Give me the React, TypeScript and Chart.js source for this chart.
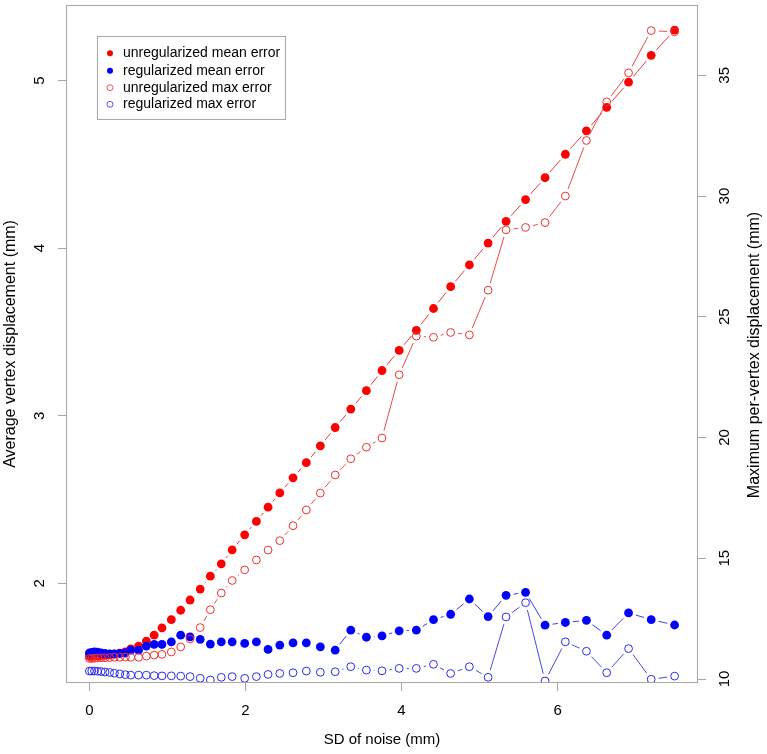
import React, { useEffect, useRef } from "react";
import { Chart, registerables } from "chart.js";

Chart.register(...registerables);

// ---- data ----
const noiseSD = [
  0, 0.03, 0.065, 0.105, 0.15, 0.2, 0.26, 0.32, 0.39, 0.46,
  0.53, 0.63, 0.73, 0.83, 0.93, 1.05, 1.17, 1.29, 1.42, 1.55, 1.69, 1.83, 1.99, 2.14, 2.29, 2.44, 2.61, 2.78, 2.96, 3.15, 3.35,
  3.55, 3.75, 3.97, 4.19, 4.41, 4.63, 4.87, 5.11, 5.34, 5.59, 5.84, 6.1, 6.37, 6.63, 6.91, 7.2, 7.5,
];

const unregMean = [
  1.565, 1.565, 1.566, 1.567, 1.569, 1.571, 1.574, 1.578, 1.584, 1.592,
  1.61, 1.626, 1.656, 1.691, 1.735, 1.784, 1.84, 1.901, 1.966, 2.043, 2.117, 2.2, 2.29, 2.37, 2.455, 2.54, 2.63, 2.72, 2.82, 2.93, 3.04,
  3.15, 3.27, 3.39, 3.51, 3.64, 3.77, 3.9, 4.03, 4.16, 4.29, 4.42, 4.56, 4.7, 4.84, 4.99, 5.15, 5.3,
];

const regMean = [
  1.585, 1.588, 1.592, 1.59, 1.585, 1.582, 1.58, 1.58, 1.582, 1.585,
  1.602, 1.602, 1.626, 1.636, 1.636, 1.651, 1.691, 1.681, 1.666, 1.638, 1.651, 1.651, 1.642, 1.651, 1.606, 1.632, 1.645, 1.645, 1.622, 1.602, 1.721,
  1.679, 1.687, 1.717, 1.721, 1.784, 1.816, 1.907, 1.802, 1.929, 1.947, 1.751, 1.767, 1.78, 1.691, 1.824, 1.784, 1.752,
];

const unregMax = [
  10.85, 10.85, 10.86, 10.87, 10.88, 10.88, 10.89, 10.9, 10.9, 10.91,
  10.9, 10.9, 10.95, 10.99, 11.02, 11.12, 11.33, 11.66, 12.13, 12.87, 13.56, 14.08, 14.52, 14.93, 15.34, 15.73, 16.35, 17.0, 17.7, 18.45, 19.12,
  19.6, 19.98, 22.6, 24.2, 24.15, 24.35, 24.25, 26.1, 28.6, 28.7, 28.9, 30.0, 32.3, 33.9, 35.1, 36.85, 36.8,
];

const regMax = [
  10.33, 10.33, 10.33, 10.32, 10.31, 10.29, 10.27, 10.24, 10.21, 10.18,
  10.16, 10.16, 10.16, 10.14, 10.13, 10.13, 10.12, 10.1, 10.03, 9.96, 10.07, 10.1, 10.03, 10.1, 10.19, 10.23, 10.26, 10.33, 10.28, 10.3, 10.51,
  10.37, 10.34, 10.44, 10.44, 10.61, 10.23, 10.51, 10.07, 12.57, 13.16, 9.92, 11.54, 11.15, 10.26, 11.26, 9.99, 10.12,
];

const xTicks = [0, 2, 4, 6];
const leftTicks = [2, 3, 4, 5];
const rightTicks = [10, 15, 20, 25, 30, 35];

const seriesLabels = [
  "unregularized mean error",
  "regularized mean error",
  "unregularized max error",
  "regularized max error",
];

const xTitle = "SD of noise (mm)";
const leftTitle = "Average vertex displacement (mm)";
const rightTitle = "Maximum per-vertex displacement (mm)";

// ---- styles ----
const AXIS_GRAY = "#a8a8a8";
const FONT = '"Liberation Sans", Arial, Helvetica, sans-serif';
const GAP = 7.5;

type Style = { color: string; line: string; filled: boolean };
const styles: Style[] = [
  { color: "#ff0000", line: "#f03a3a", filled: true },
  { color: "#0000ff", line: "#3a3aee", filled: true },
  { color: "#f03030", line: "#f04848", filled: false },
  { color: "#2a2aee", line: "#4848ee", filled: false },
];

const gapLines = {
  id: "gapLines",
  beforeDatasetsDraw(chart: any) {
    const ctx = chart.ctx;
    ctx.save();
    chart.data.datasets.forEach((ds: any, di: number) => {
      const meta = chart.getDatasetMeta(di);
      ctx.strokeStyle = styles[di].line;
      ctx.lineWidth = 1;
      ctx.beginPath();
      for (let i = 1; i < meta.data.length; i++) {
        const a = meta.data[i - 1];
        const b = meta.data[i];
        const dx = b.x - a.x;
        const dy = b.y - a.y;
        const d = Math.hypot(dx, dy);
        if (d === 0) continue;
        const f = GAP / d;
        if (f < 0.5) {
          ctx.moveTo(a.x + f * dx, a.y + f * dy);
          ctx.lineTo(b.x - f * dx, b.y - f * dy);
        }
      }
      ctx.stroke();
    });
    ctx.restore();
  },
};

function vText(ctx: CanvasRenderingContext2D, s: string, x: number, y: number) {
  ctx.save();
  ctx.translate(x, y);
  ctx.rotate(-Math.PI / 2);
  ctx.textAlign = "center";
  ctx.textBaseline = "middle";
  ctx.fillText(s, 0, 0);
  ctx.restore();
}

const decorations = {
  id: "decorations",
  afterDraw(chart: any) {
    const ctx: CanvasRenderingContext2D = chart.ctx;
    const ca = chart.chartArea;
    const xs = chart.scales.x;
    const ys = chart.scales.y;
    const y1 = chart.scales.y1;
    ctx.save();
    // box
    ctx.strokeStyle = AXIS_GRAY;
    ctx.lineWidth = 1;
    ctx.strokeRect(Math.round(ca.left) + 0.5, Math.round(ca.top) + 0.5, Math.round(ca.right - ca.left) - 1, Math.round(ca.bottom - ca.top) - 1);

    ctx.fillStyle = "#000";
    ctx.font = `15px ${FONT}`;
    ctx.textAlign = "center";
    ctx.textBaseline = "middle";
    xTicks.forEach((v) => ctx.fillText(String(v), xs.getPixelForValue(v), ca.bottom + 28));
    leftTicks.forEach((v) => vText(ctx, String(v), ca.left - 26, ys.getPixelForValue(v)));
    rightTicks.forEach((v) => vText(ctx, String(v), ca.right + 27, y1.getPixelForValue(v)));

    ctx.fillText(xTitle, (ca.left + ca.right) / 2, ca.bottom + 57);
    ctx.font = `16px ${FONT}`;
    vText(ctx, leftTitle, ca.left - 55, (ca.top + ca.bottom) / 2);
    vText(ctx, rightTitle, ca.right + 57, 355);

    // legend
    const lx = 97.5, ly = 36.5, lw = 188, lh = 83;
    ctx.strokeStyle = AXIS_GRAY;
    ctx.strokeRect(lx, ly, lw, lh);
    ctx.font = `14px ${FONT}`;
    ctx.textAlign = "left";
    const rows = [53.3, 70.7, 87.7, 104.3];
    seriesLabels.forEach((lab, i) => {
      const st = styles[i];
      ctx.beginPath();
      ctx.arc(110, rows[i], 3, 0, Math.PI * 2);
      if (st.filled) {
        ctx.fillStyle = st.color;
        ctx.fill();
      } else {
        ctx.strokeStyle = st.color;
        ctx.lineWidth = 0.8;
        ctx.stroke();
      }
      ctx.fillStyle = "#000";
      ctx.fillText(lab, 123, rows[i]);
    });
    ctx.restore();
  },
};

function axisCommon(ticks: number[], fit: (s: any) => void) {
  return {
    afterBuildTicks: (s: any) => {
      s.ticks = ticks.map((v) => ({ value: v }));
    },
    afterFit: fit,
    ticks: { display: false },
    grid: {
      display: true,
      drawOnChartArea: false,
      drawTicks: true,
      tickLength: 8,
      color: AXIS_GRAY,
      lineWidth: 1,
    },
    border: { display: false },
    title: { display: false },
  };
}

export default function App() {
  const ref = useRef<HTMLCanvasElement | null>(null);
  useEffect(() => {
    if (!ref.current) return;
    const seriesValues = [unregMean, regMean, unregMax, regMax];
    const axisIds = ["y", "y", "y1", "y1"];
    const orders = [4, 3, 2, 1];
    const chart = new Chart(ref.current, {
      type: "scatter",
      data: {
        datasets: seriesValues.map((vals, di) => ({
          label: seriesLabels[di],
          data: noiseSD.map((x, i) => ({ x, y: vals[i] })),
          yAxisID: axisIds[di],
          order: orders[di],
          showLine: false,
          pointRadius: styles[di].filled ? 4.4 : 3.9,
          pointHoverRadius: styles[di].filled ? 4.4 : 3.9,
          pointBorderWidth: styles[di].filled ? 0 : 1,
          pointBackgroundColor: styles[di].filled ? styles[di].color : "rgba(0,0,0,0)",
          pointBorderColor: styles[di].color,
        })),
      },
      options: {
        animation: false,
        responsive: false,
        devicePixelRatio: 1,
        layout: { padding: { top: 2, left: 0, right: 0, bottom: 0 } },
        plugins: {
          legend: { display: false },
          tooltip: { enabled: false },
          title: { display: false },
        },
        scales: {
          x: {
            type: "linear",
            position: "bottom",
            min: -0.3,
            max: 7.8,
            ...axisCommon(xTicks, (s: any) => {
              s.height = 71;
            }),
          },
          y: {
            type: "linear",
            position: "left",
            min: 1.406,
            max: 5.451,
            ...axisCommon(leftTicks, (s: any) => {
              s.width = 66;
            }),
          },
          y1: {
            type: "linear",
            position: "right",
            min: 9.835,
            max: 37.915,
            ...axisCommon(rightTicks, (s: any) => {
              s.width = 69;
            }),
          },
        },
      } as any,
      plugins: [gapLines, decorations],
    });
    return () => chart.destroy();
  }, []);

  return (
    <div style={{ position: "fixed", left: 0, top: 0, width: 767, height: 754, background: "#fff" }}>
      <canvas ref={ref} width={767} height={754} style={{ display: "block" }} />
    </div>
  );
}
